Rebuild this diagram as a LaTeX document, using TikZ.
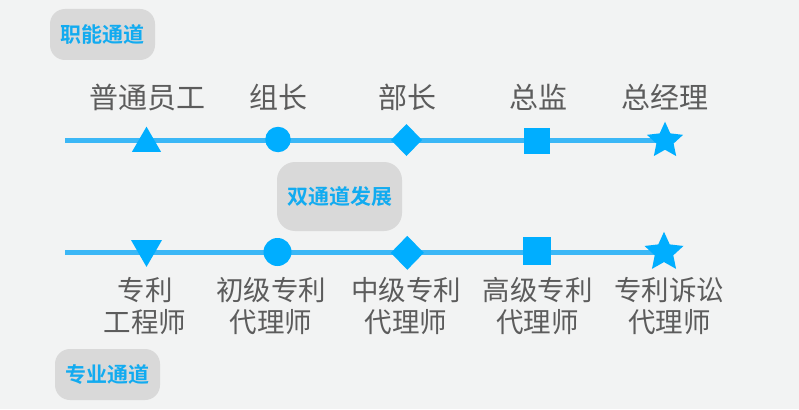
\documentclass[tikz,border=0pt]{standalone}
\usepackage{fontspec}
\setmainfont{Noto Sans CJK SC}[BoldFont={Noto Sans CJK SC Bold}]
\usetikzlibrary{shapes.geometric}
\definecolor{bgcol}{RGB}{242,243,243}
\definecolor{lineblue}{RGB}{59,183,246}
\definecolor{shapeblue}{RGB}{0,174,255}
\definecolor{txtgray}{RGB}{92,92,92}
\definecolor{badgegray}{RGB}{217,217,217}
\definecolor{badgeblue}{RGB}{18,171,240}
\begin{document}
\begin{tikzpicture}[x=1pt,y=-1pt,
  marker/.style={fill=shapeblue,draw=none,inner sep=0pt,outer sep=0pt},
  lbl/.style={text=txtgray,font=\fontsize{29}{32}\selectfont,inner sep=0pt,anchor=base},
  lbltwo/.style={text=txtgray,font=\fontsize{27.5}{32}\selectfont,align=center,inner sep=0pt},
  badge/.style={fill=badgegray,rounded corners=15pt,text=badgeblue,font=\bfseries\fontsize{21}{21}\selectfont,inner sep=0pt},
  track/.style={draw=lineblue,line width=5pt}
]
\fill[bgcol] (0,0) rectangle (799,409);
\useasboundingbox (0,0) rectangle (799,409);

% badges
\node[badge,minimum width=105pt,minimum height=51pt] (b1) at (102.5,34.5) {职能通道};
\node[badge,minimum width=125pt,minimum height=69pt,rounded corners=18pt] (b2) at (339.5,196.5) {双通道发展};
\node[badge,minimum width=105pt,minimum height=51pt] (b3) at (107.5,374.5) {专业通道};

% top track
\coordinate (s1) at (65,140);
\coordinate (e1) at (662,140);
\draw[track] (s1) -- (e1);
\node[marker,regular polygon,regular polygon sides=3,minimum size=33.5pt] (t1) at (146.5,143.4) {};
\node[marker,circle,minimum size=25.5pt] (c1) at (278,139.5) {};
\node[marker,diamond,minimum width=31pt,minimum height=32pt] (d1) at (406.5,140) {};
\node[marker,rectangle,minimum size=26pt] (q1) at (537,141) {};
\node[marker,star,star points=5,star point ratio=2.1,minimum size=38pt] (st1) at (665,140.7) {};

\node[lbl] (l1) at (147.5,108) {普通员工};
\node[lbl] (l2) at (278.7,108) {组长};
\node[lbl] (l3) at (407.5,108) {部长};
\node[lbl] (l4) at (538,108) {总监};
\node[lbl] (l5) at (665,108) {总经理};

% bottom track
\coordinate (s2) at (65,252.7);
\coordinate (e2) at (660,252.7);
\draw[track] (s2) -- (e2);
\node[marker,regular polygon,regular polygon sides=3,shape border rotate=180,minimum size=35.8pt] (t2) at (146.5,249) {};
\node[marker,circle,minimum size=28pt] (c2) at (277.5,252) {};
\node[marker,diamond,minimum width=33pt,minimum height=34pt] (d2) at (407.3,252.8) {};
\node[marker,rectangle,minimum size=28pt] (q2) at (537,251) {};
\node[marker,star,star points=5,star point ratio=2.1,minimum size=41pt] (st2) at (664,252.3) {};

\node[lbltwo] (m1) at (145,306) {专利\\工程师};
\node[lbltwo] (m2) at (271,306) {初级专利\\代理师};
\node[lbltwo] (m3) at (406,306) {中级专利\\代理师};
\node[lbltwo] (m4) at (537.7,306) {高级专利\\代理师};
\node[lbltwo] (m5) at (669.3,306) {专利诉讼\\代理师};
\end{tikzpicture}
\end{document}
